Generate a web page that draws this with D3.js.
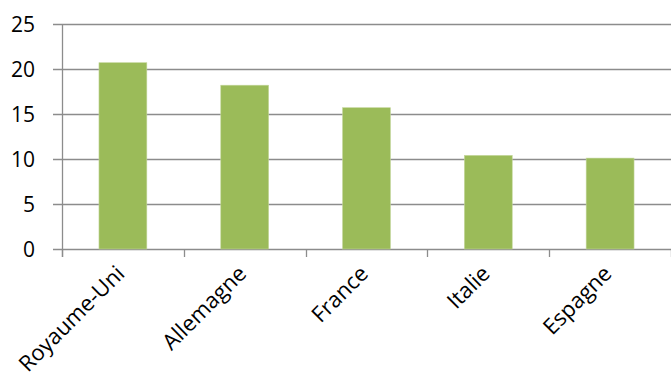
<!DOCTYPE html>
<html>
<head>
<meta charset="utf-8">
<script src="https://cdn.jsdelivr.net/npm/d3@7"></script>
<style>
  html, body { margin: 0; padding: 0; background: #fff; }
  svg { display: block; }
  text { font-family: "Open Sans", "Liberation Sans", sans-serif; fill: #000; }
</style>
</head>
<body>
<svg id="chart" width="671" height="383"></svg>
<script>
// Country categories and their values
const categories = ["Royaume-Uni", "Allemagne", "France", "Italie", "Espagne"];
const values = [20.7, 18.2, 15.7, 10.4, 10.1];
const yTicks = [0, 5, 10, 15, 20, 25];

const svg = d3.select("#chart");
const margin = { top: 24, right: 0, bottom: 134, left: 62 };
const W = 671, H = 383;
const innerW = W - margin.left - margin.right;
const innerH = H - margin.top - margin.bottom;

const g = svg.append("g").attr("transform", `translate(${margin.left},${margin.top})`);

const x = d3.scaleBand().domain(categories).range([0, innerW]).paddingInner(0.607).paddingOuter(0.3035);
const y = d3.scaleLinear().domain([0, 25]).range([innerH, 0]);

// Horizontal gridlines with short ticks outside the axis
g.append("g").selectAll("line").data(yTicks).join("line")
  .attr("x1", -9).attr("x2", innerW)
  .attr("y1", d => Math.round(y(d)) + 0.5).attr("y2", d => Math.round(y(d)) + 0.5)
  .attr("stroke", "#8c8c8c").attr("stroke-width", 1.3);

// Y tick labels
g.append("g").selectAll("text").data(yTicks).join("text")
  .attr("x", -27).attr("y", d => y(d)).attr("dy", "0.36em")
  .attr("text-anchor", "end").attr("font-size", 21)
  .text(d => d);

// Bars
g.append("g").selectAll("rect").data(values).join("rect")
  .attr("x", (d, i) => x(categories[i]))
  .attr("y", d => y(d))
  .attr("width", x.bandwidth())
  .attr("height", d => innerH - y(d))
  .attr("fill", "#9bbb59")
  .attr("stroke", "#c3d69b").attr("stroke-width", 0.6);

// Y axis line
g.append("line").attr("x1", 0.5).attr("x2", 0.5).attr("y1", 0).attr("y2", innerH + 8)
  .attr("stroke", "#8c8c8c").attr("stroke-width", 1.3);

// Category boundary ticks on the x axis
const step = x.step();
g.append("g").selectAll("line").data(d3.range(categories.length + 1)).join("line")
  .attr("x1", i => Math.round(i * step) + 0.5).attr("x2", i => Math.round(i * step) + 0.5)
  .attr("y1", innerH).attr("y2", innerH + 8)
  .attr("stroke", "#8c8c8c").attr("stroke-width", 1.3);

// Rotated category labels
g.append("g").selectAll("text").data(categories).join("text")
  .attr("text-anchor", "end").attr("font-size", 22)
  .attr("transform", d => `translate(${x(d) + x.bandwidth() / 2 + 3},${innerH + 26}) rotate(-45)`)
  .text(d => d);
</script>
</body>
</html>
